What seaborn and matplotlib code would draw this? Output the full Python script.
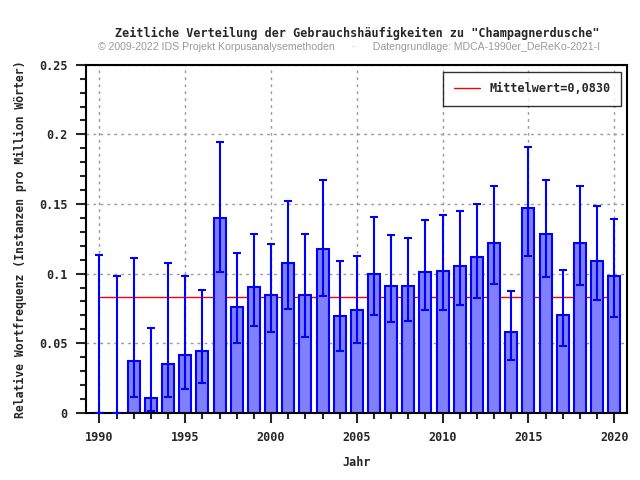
import numpy as np
import pandas as pd
import matplotlib
matplotlib.use("Agg")
import matplotlib.pyplot as plt
from matplotlib.ticker import MultipleLocator, FuncFormatter
import seaborn as sns

# Data
years = list(range(1990, 2021))
freq = [0.0, 0.0, 0.0369, 0.0103, 0.0354, 0.0412, 0.0441, 0.1403, 0.0757, 0.0901,
        0.0843, 0.1073, 0.0843, 0.1180, 0.0692, 0.0742, 0.0994, 0.0910, 0.0910, 0.1008,
        0.1022, 0.1058, 0.1116, 0.1223, 0.0577, 0.1468, 0.1281, 0.0706, 0.1223, 0.1094,
        0.0980]
err_low = [0.0, 0.0, 0.0117, 0.0014, 0.0117, 0.0168, 0.0216, 0.1013, 0.0498, 0.0625,
           0.0577, 0.0747, 0.0548, 0.0836, 0.0441, 0.0498, 0.0699, 0.0649, 0.0656, 0.0735,
           0.0735, 0.0771, 0.0828, 0.0922, 0.0376, 0.1123, 0.0972, 0.0483, 0.0915, 0.0807,
           0.0685]
err_high = [0.1135, 0.0986, 0.1109, 0.0611, 0.1073, 0.0980, 0.0884, 0.1942, 0.1145, 0.1286,
            0.1214, 0.1525, 0.1286, 0.1669, 0.1094, 0.1123, 0.1410, 0.1274, 0.1253, 0.1382,
            0.1418, 0.1453, 0.1497, 0.1626, 0.0872, 0.1906, 0.1676, 0.1029, 0.1626, 0.1489,
            0.1389]
mean_value = 0.0830

df = pd.DataFrame({"Jahr": years, "freq": freq, "low": err_low, "high": err_high})

sns.set_style("white")
mono = ["DejaVu Sans Mono"]
plt.rcParams["font.family"] = mono

fig = plt.figure(figsize=(6.4, 4.8), dpi=100)
ax = fig.add_axes([0.134, 0.14, 0.846, 0.725])

# mean line behind the bars
ax.plot([years[0], years[-1]], [mean_value, mean_value], color="#ff0000", lw=1,
        zorder=1, label="Mittelwert=0,0830")

sns.barplot(data=df, x="Jahr", y="freq", native_scale=True, width=0.7,
            color="#8080ff", saturation=1, edgecolor="#0000ff", linewidth=1.5,
            errorbar=None, ax=ax, zorder=2)

ax.errorbar(df["Jahr"], df["freq"],
            yerr=[df["freq"] - df["low"], df["high"] - df["freq"]],
            fmt="none", ecolor="#0000ff", elinewidth=1.5, capsize=3, capthick=1.5, zorder=3)

ax.set_xlim(1989.2, 2020.76)
ax.set_ylim(0, 0.25)
ax.xaxis.set_major_locator(MultipleLocator(5))
ax.xaxis.set_minor_locator(MultipleLocator(1))
ax.yaxis.set_major_locator(MultipleLocator(0.05))
ax.yaxis.set_minor_locator(MultipleLocator(0.01))
ax.yaxis.set_major_formatter(FuncFormatter(lambda v, p: f"{v:g}"))
ax.xaxis.set_major_formatter(FuncFormatter(lambda v, p: f"{int(v)}"))

ax.tick_params(which="major", direction="out", length=7, width=1.5, labelsize=8.5,
               bottom=True, left=True, pad=6)
ax.tick_params(which="minor", direction="out", length=4, width=1.5, bottom=True, left=True)
for lab in ax.get_xticklabels() + ax.get_yticklabels():
    lab.set_fontweight("bold")

ax.grid(True, which="major", linestyle=(0, (2, 3)), color="#999999", lw=1, zorder=0)
ax.set_axisbelow(True)
for sp in ax.spines.values():
    sp.set_visible(True)
    sp.set_color("black")
    sp.set_linewidth(1.5)

ax.set_xlabel("Jahr", fontsize=8.5, fontweight="bold", labelpad=9)
ax.set_ylabel("Relative Wortfrequenz (Instanzen pro Million Wörter)", fontsize=8.3,
              fontweight="bold", labelpad=9)

fig.text(0.558, 0.93, "Zeitliche Verteilung der Gebrauchshäufigkeiten zu \"Champagnerdusche\"",
         ha="center", va="center", fontsize=8.5, fontweight="bold")
fig.text(0.545, 0.903,
         "© 2009-2022 IDS Projekt Korpusanalysemethoden      ·      Datengrundlage: MDCA-1990er_DeReKo-2021-I",
         ha="center", va="center", fontsize=7.6, color="#999999", family="Liberation Sans")

leg = ax.legend(loc="upper right", frameon=True, fancybox=False, fontsize=8.5,
                handlelength=2.2, borderpad=0.9, bbox_to_anchor=(0.999, 0.997))
leg.get_frame().set_edgecolor("black")
leg.get_frame().set_linewidth(1)
for t in leg.get_texts():
    t.set_fontweight("bold")

fig.savefig("out.png", dpi=100)
